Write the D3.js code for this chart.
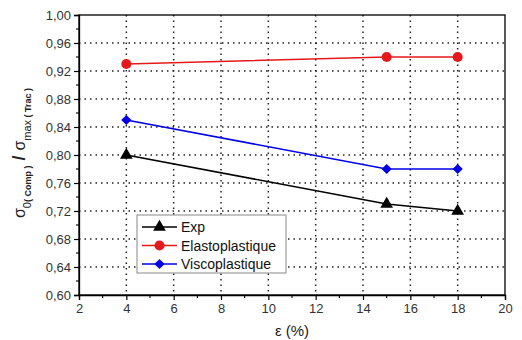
<!DOCTYPE html>
<html><head><meta charset="utf-8">
<script src="https://cdn.jsdelivr.net/npm/d3@7"></script>
<style>body{margin:0;background:#fff;}svg{display:block;font-family:"Liberation Sans",Arial,sans-serif;}</style>
</head><body><svg id="c" width="522" height="340"></svg>
<script>
const strain = [4, 15, 18];
const expVals = [0.80, 0.73, 0.72];
const elastoVals = [0.93, 0.94, 0.94];
const viscoVals = [0.85, 0.78, 0.78];
const seriesNames = ["Exp", "Elastoplastique", "Viscoplastique"];
const xTicks = [2, 4, 6, 8, 10, 12, 14, 16, 18, 20];
const yTicks = [0.60, 0.64, 0.68, 0.72, 0.76, 0.80, 0.84, 0.88, 0.92, 0.96, 1.00];

const svg = d3.select("#c");
const L = 79, R = 505, T = 15, B = 295;
const x = d3.scaleLinear().domain([2, 20]).range([L, R]);
const y = d3.scaleLinear().domain([0.60, 1.00]).range([B, T]);
const fmt = d => d3.format(".2f")(d).replace(".", ",");

// grid
const g = svg.append("g");
g.selectAll(".gx").data(xTicks.filter(d => d > 2 && d < 20)).join("line")
  .attr("x1", d => x(d)).attr("x2", d => x(d)).attr("y1", T).attr("y2", B)
  .attr("stroke", "#222").attr("stroke-width", 1.5).attr("stroke-dasharray", "1.5,4");
g.selectAll(".gy").data(yTicks.filter(d => d > 0.6 && d < 1)).join("line")
  .attr("x1", L).attr("x2", R).attr("y1", d => y(d)).attr("y2", d => y(d))
  .attr("stroke", "#222").attr("stroke-width", 1.5).attr("stroke-dasharray", "1.5,4");

// frame
svg.append("rect").attr("x", L).attr("y", T).attr("width", R - L).attr("height", B - T)
  .attr("fill", "none").attr("stroke", "#000").attr("stroke-width", 1.3);

// axes
const xAxis = d3.axisBottom(x).tickValues(xTicks).tickFormat(d3.format("d")).tickSize(5).tickPadding(4);
const xa = svg.append("g").attr("transform", `translate(0,${B})`).call(xAxis);
const yAxis = d3.axisLeft(y).tickValues(yTicks).tickFormat(fmt).tickSize(5).tickPadding(3);
const ya = svg.append("g").attr("transform", `translate(${L},0)`).call(yAxis);
[xa, ya].forEach(a => {
  a.select(".domain").attr("stroke", "#000").attr("stroke-width", 1.3);
  a.selectAll(".tick line").attr("stroke", "#000").attr("stroke-width", 1.2);
  a.selectAll("text").attr("font-size", 13).attr("fill", "#333").attr("font-family", "Liberation Sans, Arial, sans-serif");
});
// minor ticks
const xMinor = d3.range(3, 20, 2);
svg.append("g").selectAll("line").data(xMinor).join("line")
  .attr("x1", d => x(d)).attr("x2", d => x(d)).attr("y1", B).attr("y2", B + 3)
  .attr("stroke", "#000").attr("stroke-width", 1.1);
const yMinor = d3.range(0.62, 1.0, 0.04);
svg.append("g").selectAll("line").data(yMinor).join("line")
  .attr("x1", L - 3).attr("x2", L).attr("y1", d => y(d)).attr("y2", d => y(d))
  .attr("stroke", "#000").attr("stroke-width", 1.1);

// series
const series = [
  {name: seriesNames[0], vals: expVals, color: "#000", shape: d3.symbolTriangle, size: 70, rot: 0},
  {name: seriesNames[1], vals: elastoVals, color: "#e41a1a", shape: d3.symbolCircle, size: 80, rot: 0},
  {name: seriesNames[2], vals: viscoVals, color: "#0000e6", shape: d3.symbolSquare, size: 52, rot: 45}
];
const line = d3.line().x(d => x(d[0])).y(d => y(d[1]));
series.forEach(s => {
  const pts = strain.map((v, i) => [v, s.vals[i]]);
  svg.append("path").datum(pts).attr("d", line).attr("fill", "none")
    .attr("stroke", s.color).attr("stroke-width", 1.6);
  svg.append("g").selectAll("path").data(pts).join("path")
    .attr("d", d3.symbol().type(s.shape).size(s.size))
    .attr("transform", d => `translate(${x(d[0])},${y(d[1])}) rotate(${s.rot})`)
    .attr("fill", s.color);
});

// legend
const lg = svg.append("g");
lg.append("rect").attr("x", 137).attr("y", 215).attr("width", 149).attr("height", 58)
  .attr("fill", "#fff").attr("stroke", "#888").attr("stroke-width", 1);
series.forEach((s, i) => {
  const yy = 227 + i * 18.5;
  lg.append("line").attr("x1", 142).attr("x2", 177).attr("y1", yy).attr("y2", yy)
    .attr("stroke", s.color).attr("stroke-width", 1.6);
  lg.append("path").attr("d", d3.symbol().type(s.shape).size(s.size))
    .attr("transform", `translate(159.5,${yy}) rotate(${s.rot})`).attr("fill", s.color);
  lg.append("text").attr("x", 181).attr("y", yy + 5).attr("font-size", 14)
    .attr("fill", "#111").text(s.name);
});

// x label
svg.append("text").attr("x", 292).attr("y", 336).attr("text-anchor", "middle")
  .attr("font-size", 15).attr("fill", "#222").text("ε (%)");

// y label
const yl = svg.append("text").attr("transform", "translate(25,153) rotate(-90)")
  .attr("text-anchor", "middle").attr("fill", "#222").attr("font-size", 16);
yl.append("tspan").text("σ");
yl.append("tspan").attr("font-size", 11).attr("dy", 6).text("0");
yl.append("tspan").attr("font-size", 9).attr("font-weight", "bold").text("( Comp )");
yl.append("tspan").attr("dy", -6).attr("font-size", 18).attr("font-weight", "bold").text(" / ");
yl.append("tspan").attr("font-size", 16).text("σ");
yl.append("tspan").attr("font-size", 11).attr("dy", 6).text("max");
yl.append("tspan").attr("font-size", 9).attr("font-weight", "bold").text(" ( Trac )");
</script></body></html>
